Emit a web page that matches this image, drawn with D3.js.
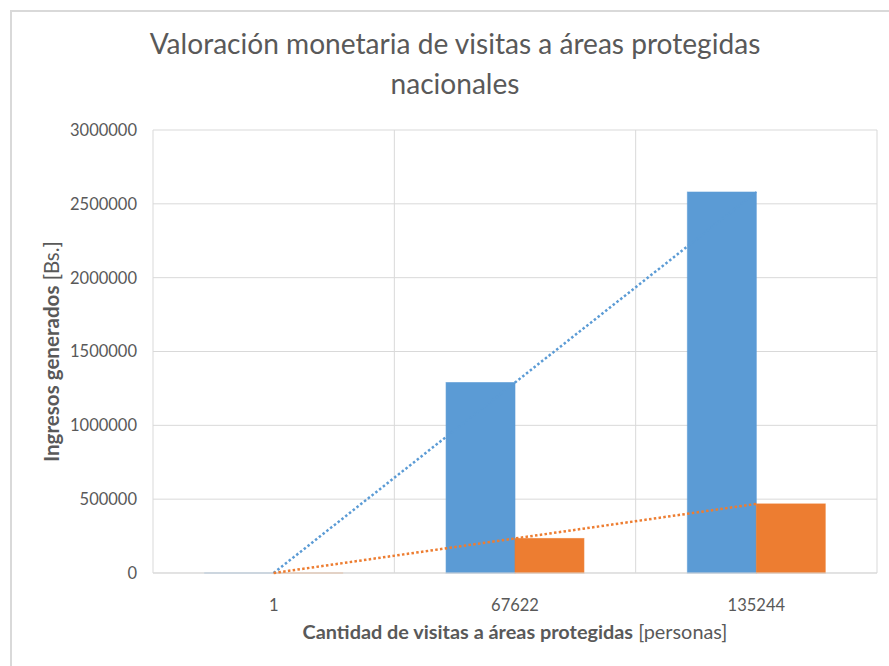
<!DOCTYPE html>
<html>
<head>
<meta charset="utf-8">
<script src="https://cdn.jsdelivr.net/npm/d3@7"></script>
<style>
  body { margin: 0; background: #fff; }
  svg { font-family: Lato, "Open Sans", sans-serif; }
</style>
</head>
<body>
<svg id="chart" width="889" height="666"></svg>
<script>
// datos
const categories = ["1", "67622", "135244"];
const seriesNames = ["Valor A", "Valor B"];
const blueValues = [19, 1290000, 2580000];
const orangeValues = [3.5, 234000, 468000];
const yTicks = [0, 500000, 1000000, 1500000, 2000000, 2500000, 3000000];

const colors = ["#5B9BD5", "#ED7D31"];
const textColor = "#595959";
const gridColor = "#d9d9d9";

var svg = d3.select("#chart");

// borde del area del grafico (solo arriba e izquierda se ven)
svg.append("path")
  .attr("d", "M11,666 V11 H889")
  .attr("fill", "none")
  .attr("stroke", "#d9d9d9")
  .attr("stroke-width", 2);

var plotLeft = 153, plotRight = 877, plotTop = 130, plotBottom = 573;

var x = d3.scaleBand().domain(categories).range([plotLeft, plotRight]).padding(0);
var xSub = d3.scaleBand().domain(seriesNames).range([0, x.bandwidth()])
  .paddingInner(0).paddingOuter(0.75);
var y = d3.scaleLinear().domain([0, 3000000]).range([plotBottom, plotTop]);

// grid horizontal
svg.append("g")
  .selectAll("line")
  .data(yTicks)
  .enter()
  .append("line")
  .attr("x1", plotLeft)
  .attr("x2", plotRight)
  .attr("y1", d => y(d))
  .attr("y2", d => y(d))
  .attr("stroke", gridColor)
  .attr("stroke-width", 1);

// grid vertical en los limites de categoria
var bounds = categories.map(c => x(c)).concat([plotRight]);
svg.append("g")
  .selectAll("line")
  .data(bounds)
  .enter()
  .append("line")
  .attr("x1", d => d)
  .attr("x2", d => d)
  .attr("y1", plotTop)
  .attr("y2", plotBottom)
  .attr("stroke", gridColor)
  .attr("stroke-width", 1);

// barras
var rows = categories.map((c, i) => ({ cat: c, values: [blueValues[i], orangeValues[i]] }));
var groups = svg.append("g")
  .selectAll("g")
  .data(rows)
  .enter()
  .append("g")
  .attr("transform", d => "translate(" + x(d.cat) + ",0)");

groups.selectAll("rect")
  .data(d => d.values.map((v, i) => ({ key: seriesNames[i], value: v, i: i })))
  .enter()
  .append("rect")
  .attr("x", d => xSub(d.key))
  .attr("width", xSub.bandwidth())
  .attr("y", d => y(d.value))
  .attr("height", d => plotBottom - y(d.value))
  .attr("fill", d => colors[d.i])
  .attr("stroke", d => colors[d.i])
  .attr("stroke-width", 1)
  .attr("stroke-opacity", 0.6);

// eje x
svg.append("line")
  .attr("x1", plotLeft).attr("x2", plotRight)
  .attr("y1", plotBottom).attr("y2", plotBottom)
  .attr("stroke", gridColor);

// lineas de tendencia (lineal, en el centro de cada categoria)
function linearFit(vals) {
  var xs = vals.map((v, i) => i + 1);
  var mx = d3.mean(xs), my = d3.mean(vals);
  var num = d3.sum(xs, (xi, i) => (xi - mx) * (vals[i] - my));
  var den = d3.sum(xs, xi => (xi - mx) * (xi - mx));
  var b = num / den;
  return xs.map(xi => my + b * (xi - mx));
}
[blueValues, orangeValues].forEach((vals, s) => {
  var fit = linearFit(vals);
  var line = d3.line()
    .x((d, i) => x(categories[i]) + x.bandwidth() / 2)
    .y(d => y(Math.max(0, d)));
  svg.append("path")
    .datum(fit)
    .attr("d", line)
    .attr("fill", "none")
    .attr("stroke", colors[s])
    .attr("stroke-width", 2.5)
    .attr("stroke-dasharray", "2.5 2.3");
});

// etiquetas eje y
svg.append("g")
  .selectAll("text")
  .data(yTicks)
  .enter()
  .append("text")
  .attr("x", 137)
  .attr("y", d => y(d))
  .attr("dy", "0.36em")
  .attr("text-anchor", "end")
  .style("font-size", "16.5px")
  .style("fill", textColor)
  .text(d3.format("d"));

// etiquetas eje x
svg.append("g")
  .selectAll("text")
  .data(categories)
  .enter()
  .append("text")
  .attr("x", d => x(d) + x.bandwidth() / 2)
  .attr("y", 611)
  .attr("text-anchor", "middle")
  .style("font-size", "16.5px")
  .style("fill", textColor)
  .text(d => d);

// ajusta el tamaño de letra a un ancho dado
function fitWidth(sel, target) {
  var w = sel.node().getComputedTextLength();
  var fs = parseFloat(sel.style("font-size"));
  sel.style("font-size", (fs * target / w) + "px");
}

// titulo
var t1 = svg.append("text")
  .attr("x", 455).attr("y", 54)
  .attr("text-anchor", "middle")
  .style("font-size", "28px")
  .style("fill", textColor)
  .text("Valoración monetaria de visitas a áreas protegidas");
fitWidth(t1, 611);
svg.append("text")
  .attr("x", 455).attr("y", 94)
  .attr("text-anchor", "middle")
  .style("font-size", t1.style("font-size"))
  .style("fill", textColor)
  .text("nacionales");

// titulo eje x
var xt = svg.append("text")
  .attr("x", 515).attr("y", 639)
  .attr("text-anchor", "middle")
  .style("font-size", "18px")
  .style("fill", textColor);
xt.append("tspan").style("font-weight", "bold").text("Cantidad de visitas a áreas protegidas");
xt.append("tspan").text(" [personas]");
fitWidth(xt, 425);

// titulo eje y
var yt = svg.append("text")
  .attr("transform", "translate(59," + ((plotTop + plotBottom) / 2) + ") rotate(-90)")
  .attr("text-anchor", "middle")
  .style("font-size", "18px")
  .style("fill", textColor);
yt.append("tspan").style("font-weight", "bold").text("Ingresos generados");
yt.append("tspan").text(" [Bs.]");
fitWidth(yt, 221);
</script>
</body>
</html>
